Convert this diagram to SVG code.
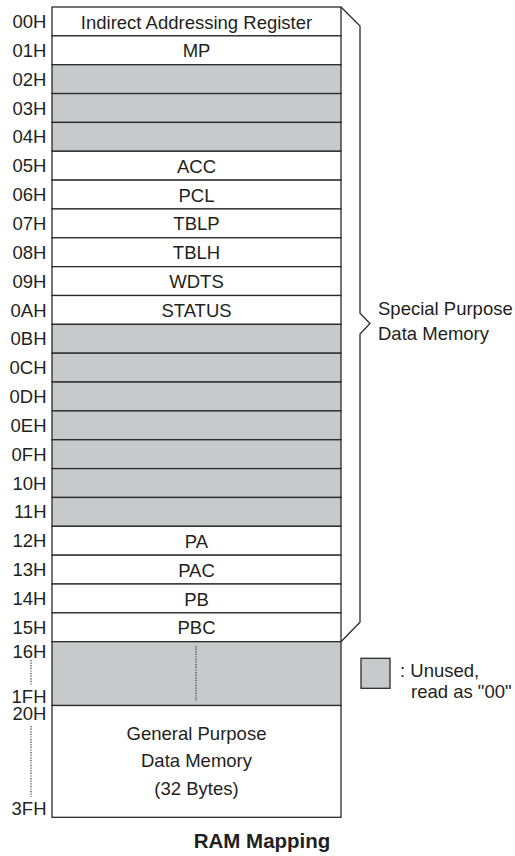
<svg xmlns="http://www.w3.org/2000/svg" width="515" height="856" viewBox="0 0 515 856">
<style>
.t{font-family:"Liberation Sans",Arial,sans-serif;font-size:18.5px;fill:#231f20}
.c{text-anchor:middle}
.a{text-anchor:end}
.w{fill:#ffffff;stroke:#2b2b2b;stroke-width:1.3}
.g{fill:#c8c9cb;stroke:#2b2b2b;stroke-width:1.3}
.ln{fill:none;stroke:#2b2b2b;stroke-width:1.3}
.dot{fill:none;stroke:#333;stroke-width:1.2;stroke-dasharray:1.2 1.4}
.b{font-weight:bold;font-size:20.5px}
</style>
<rect width="515" height="856" fill="#ffffff"/>
<g id="cells">
<g id="r00"><rect class="w" x="52" y="7" width="289" height="28.85"/><text class="t c" x="196.5" y="28.5">Indirect Addressing Register</text></g>
<g id="r01"><rect class="w" x="52" y="35.85" width="289" height="28.85"/><text class="t c" x="196.5" y="57.35">MP</text></g>
<g id="r02"><rect class="g" x="52" y="64.7" width="289" height="28.85"/></g>
<g id="r03"><rect class="g" x="52" y="93.55" width="289" height="28.85"/></g>
<g id="r04"><rect class="g" x="52" y="122.4" width="289" height="28.85"/></g>
<g id="r05"><rect class="w" x="52" y="151.25" width="289" height="28.85"/><text class="t c" x="196.5" y="172.75">ACC</text></g>
<g id="r06"><rect class="w" x="52" y="180.1" width="289" height="28.85"/><text class="t c" x="196.5" y="201.6">PCL</text></g>
<g id="r07"><rect class="w" x="52" y="208.95" width="289" height="28.85"/><text class="t c" x="196.5" y="230.45">TBLP</text></g>
<g id="r08"><rect class="w" x="52" y="237.8" width="289" height="28.85"/><text class="t c" x="196.5" y="259.3">TBLH</text></g>
<g id="r09"><rect class="w" x="52" y="266.65" width="289" height="28.85"/><text class="t c" x="196.5" y="288.15">WDTS</text></g>
<g id="r0A"><rect class="w" x="52" y="295.5" width="289" height="28.85"/><text class="t c" x="196.5" y="317">STATUS</text></g>
<g id="r0B"><rect class="g" x="52" y="324.35" width="289" height="28.85"/></g>
<g id="r0C"><rect class="g" x="52" y="353.2" width="289" height="28.85"/></g>
<g id="r0D"><rect class="g" x="52" y="382.05" width="289" height="28.85"/></g>
<g id="r0E"><rect class="g" x="52" y="410.9" width="289" height="28.85"/></g>
<g id="r0F"><rect class="g" x="52" y="439.75" width="289" height="28.85"/></g>
<g id="r10"><rect class="g" x="52" y="468.6" width="289" height="28.85"/></g>
<g id="r11"><rect class="g" x="52" y="497.45" width="289" height="28.85"/></g>
<g id="r12"><rect class="w" x="52" y="526.3" width="289" height="28.85"/><text class="t c" x="196.5" y="547.8">PA</text></g>
<g id="r13"><rect class="w" x="52" y="555.15" width="289" height="28.85"/><text class="t c" x="196.5" y="576.65">PAC</text></g>
<g id="r14"><rect class="w" x="52" y="584" width="289" height="28.85"/><text class="t c" x="196.5" y="605.5">PB</text></g>
<g id="r15"><rect class="w" x="52" y="612.85" width="289" height="28.85"/><text class="t c" x="196.5" y="634.35">PBC</text></g>
<g id="r16_1F"><rect class="g" x="52" y="641.7" width="289" height="63.8"/><line class="dot" x1="196" y1="646" x2="196" y2="701"/></g>
<g id="r20_3F"><rect class="w" x="52" y="705.5" width="289" height="111.8"/>
<text class="t c" x="196.5" y="740">General Purpose</text>
<text class="t c" x="196.5" y="767">Data Memory</text>
<text class="t c" x="196.5" y="794.5">(32 Bytes)</text></g>
</g>
<g id="addresses" class="t a">
<text x="46.5" y="28">00H</text>
<text x="46.5" y="56.85">01H</text>
<text x="46.5" y="85.7">02H</text>
<text x="46.5" y="114.55">03H</text>
<text x="46.5" y="143.4">04H</text>
<text x="46.5" y="172.25">05H</text>
<text x="46.5" y="201.1">06H</text>
<text x="46.5" y="229.95">07H</text>
<text x="46.5" y="258.8">08H</text>
<text x="46.5" y="287.65">09H</text>
<text x="46.5" y="316.5">0AH</text>
<text x="46.5" y="345.35">0BH</text>
<text x="46.5" y="374.2">0CH</text>
<text x="46.5" y="403.05">0DH</text>
<text x="46.5" y="431.9">0EH</text>
<text x="46.5" y="460.75">0FH</text>
<text x="46.5" y="489.6">10H</text>
<text x="46.5" y="518.45">11H</text>
<text x="46.5" y="547.3">12H</text>
<text x="46.5" y="576.15">13H</text>
<text x="46.5" y="605">14H</text>
<text x="46.5" y="633.85">15H</text>
<text x="46.5" y="658.3">16H</text>
<text x="46.5" y="703">1FH</text>
<text x="46.5" y="720">20H</text>
<text x="46.5" y="815">3FH</text>
</g>
<g id="connectors">
<path class="ln" d="M341,7 L360,26 L360,313.3 L370,323.5 L360,334 L360,622.3 L341,641.7"/>
<line class="dot" x1="31" y1="660" x2="31" y2="685"/>
<line class="dot" x1="31" y1="726" x2="31" y2="797"/>
</g>
<g id="spdm"><text class="t" x="378" y="315">Special Purpose</text><text class="t" x="378" y="340">Data Memory</text></g>
<g id="legend"><rect class="g" x="361" y="658.3" width="29" height="30"/>
<text class="t" x="400" y="677.3">: Unused,</text>
<text class="t" x="411" y="698">read as "00"</text></g>
<g id="title"><text class="t c b" x="262" y="848.3">RAM Mapping</text></g>
</svg>
